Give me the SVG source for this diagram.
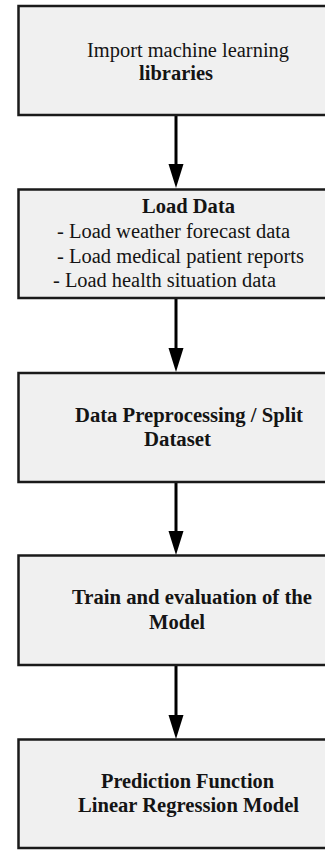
<svg xmlns="http://www.w3.org/2000/svg" width="325" height="851" viewBox="0 0 325 851">
  <style>
    .box { fill: #f0f0f0; stroke: #1a1a1a; stroke-width: 2.5; }
    .t { font-family: 'Liberation Serif', 'DejaVu Serif', serif; font-size: 20px; fill: #141414; }
    .b { font-weight: bold; }
    .conn { stroke: #000; stroke-width: 3; fill: none; }
  </style>
  <defs>
    <marker id="arrow" markerUnits="userSpaceOnUse" markerWidth="24" markerHeight="16" viewBox="0 0 24 16" refX="14" refY="8" orient="auto">
      <path d="M0,0.5 L24,8 L0,15.5 z" fill="#000"/>
    </marker>
  </defs>
  <rect width="325" height="851" fill="#fff"/>
  <g id="connectors">
    <line class="conn" x1="176" y1="115" x2="176" y2="178" marker-end="url(#arrow)"/>
    <line class="conn" x1="176" y1="298" x2="176" y2="362" marker-end="url(#arrow)"/>
    <line class="conn" x1="176" y1="482" x2="176" y2="545" marker-end="url(#arrow)"/>
    <line class="conn" x1="176" y1="665" x2="176" y2="729" marker-end="url(#arrow)"/>
  </g>
  <g id="node-import">
    <rect class="box" x="18.5" y="6" width="330" height="109"/>
    <text class="t" x="87" y="57" textLength="202" lengthAdjust="spacingAndGlyphs">Import machine learning</text>
    <text class="t b" x="139" y="80" textLength="74" lengthAdjust="spacingAndGlyphs">libraries</text>
  </g>
  <g id="node-load">
    <rect class="box" x="18.5" y="189.5" width="330" height="108.5"/>
    <text class="t b" x="142" y="213" textLength="93" lengthAdjust="spacingAndGlyphs">Load Data</text>
    <text class="t" x="57" y="238" textLength="233" lengthAdjust="spacingAndGlyphs">- Load weather forecast data</text>
    <text class="t" x="57" y="263" textLength="247" lengthAdjust="spacingAndGlyphs">- Load medical patient reports</text>
    <text class="t" x="53" y="287" textLength="223" lengthAdjust="spacingAndGlyphs">- Load health situation data</text>
  </g>
  <g id="node-preprocess">
    <rect class="box" x="18.5" y="373" width="330" height="109"/>
    <text class="t b" x="75" y="422" textLength="228" lengthAdjust="spacingAndGlyphs">Data Preprocessing / Split</text>
    <text class="t b" x="144" y="446" textLength="67" lengthAdjust="spacingAndGlyphs">Dataset</text>
  </g>
  <g id="node-train">
    <rect class="box" x="18.5" y="555.5" width="330" height="109.5"/>
    <text class="t b" x="72" y="604" textLength="240" lengthAdjust="spacingAndGlyphs">Train and evaluation of the</text>
    <text class="t b" x="149" y="629" textLength="56" lengthAdjust="spacingAndGlyphs">Model</text>
  </g>
  <g id="node-predict">
    <rect class="box" x="18.5" y="739.5" width="330" height="108.5"/>
    <text class="t b" x="101" y="788" textLength="173" lengthAdjust="spacingAndGlyphs">Prediction Function</text>
    <text class="t b" x="78" y="812" textLength="221" lengthAdjust="spacingAndGlyphs">Linear Regression Model</text>
  </g>
</svg>
